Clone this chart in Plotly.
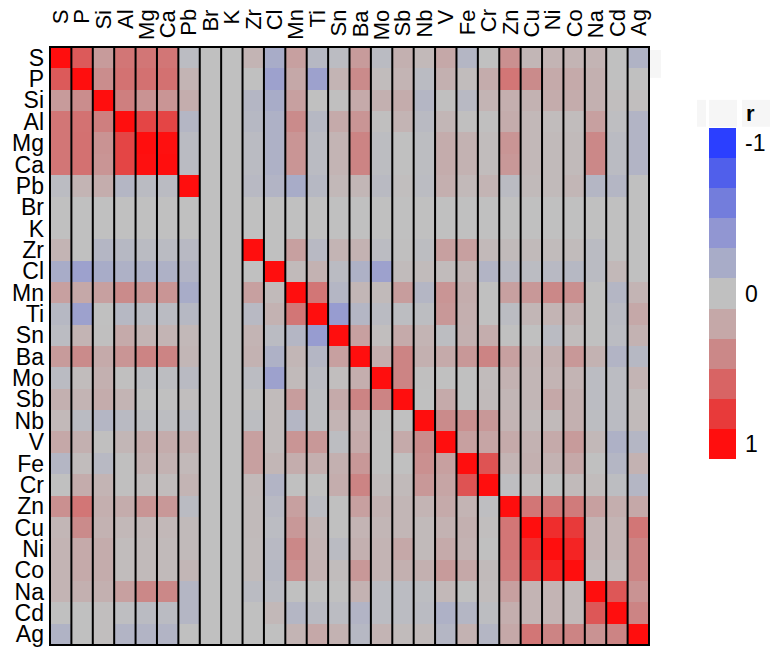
import plotly.graph_objects as go

# Elements in matrix order
labels = ["S", "P", "Si", "Al", "Mg", "Ca", "Pb", "Br", "K", "Zr", "Cl", "Mn", "Ti", "Sn",
          "Ba", "Mo", "Sb", "Nb", "V", "Fe", "Cr", "Zn", "Cu", "Ni", "Co", "Na", "Cd", "Ag"]

# Lower triangle of the Pearson correlation matrix (row i holds columns 0..i)
r_S = [1]
r_P = [0.65, 1]
r_Si = [0.28, 0.37, 1]
r_Al = [0.5, 0.52, 0.45, 1]
r_Mg = [0.5, 0.53, 0.33, 0.75, 1]
r_Ca = [0.5, 0.53, 0.32, 0.75, 0.99, 1]
r_Pb = [-0.04, 0.1, 0.16, -0.1, -0.05, -0.05, 1]
r_Br = [0, 0, 0, 0, 0, 0, 0, 0]
r_K = [0, 0, 0, 0, 0, 0, 0, 0, 0]
r_Zr = [0.1, 0, -0.1, -0.08, -0.05, -0.05, -0.07, 0, 0, 1]
r_Cl = [-0.2, -0.3, -0.2, -0.15, -0.15, -0.15, -0.12, 0, 0, 0, 1]
r_Mn = [0.25, 0.2, 0.25, 0.38, 0.32, 0.32, -0.2, 0, 0, 0.25, 0.05, 1]
r_Ti = [-0.08, -0.3, 0, -0.08, -0.05, -0.05, -0.08, 0, 0, -0.07, 0.12, 0.5, 1]
r_Sn = [-0.04, 0.1, 0.01, 0.18, 0.1, 0.1, 0.07, 0, 0, 0.1, -0.05, -0.1, -0.35, 1]
r_Ba = [0.28, 0.38, 0.18, 0.32, 0.42, 0.42, 0.08, 0, 0, 0.12, -0.15, 0.08, -0.1, 0.25, 1]
r_Mo = [-0.05, 0.03, 0.13, 0.01, -0.03, -0.03, -0.06, 0, 0, -0.04, -0.3, 0.05, -0.05, 0.02,
        0.15, 1]
r_Sb = [0.13, 0.1, 0.17, 0.1, 0, 0, 0.02, 0, 0, 0.01, 0.04, 0.27, -0.03, 0.18, 0.42, 0.42, 1]
r_Nb = [0.06, -0.05, -0.1, -0.06, -0.03, -0.03, -0.04, 0, 0, -0.03, 0.04, -0.1, -0.03, 0.1,
        0.13, 0.01, 0, 1]
r_V = [0.2, 0.13, 0.01, 0.08, 0.17, 0.17, 0.14, 0, 0, 0.25, 0.04, 0.32, 0.3, -0.03, 0.18, 0,
       0.18, 0.38, 1]
r_Fe = [-0.1, 0.03, -0.07, 0.01, 0.12, 0.12, 0.06, 0, 0, 0.25, 0.08, 0.16, 0.14, 0.13, 0.3,
        0, 0, 0.35, 0.25, 1]
r_Cr = [0, 0.17, 0.1, 0.01, 0.03, 0.03, 0.1, 0, 0, 0.06, -0.12, 0, 0, 0.16, 0.42, 0.04,
        0.05, 0.3, 0.22, 0.68, 1]
r_Zn = [0.35, 0.5, 0.14, 0.17, 0.32, 0.3, -0.05, 0, 0, 0.05, -0.07, 0.25, -0.04, 0, 0.25,
        0.12, 0.08, 0.1, 0.18, 0.1, -0.02, 1]
r_Cu = [0.08, 0.38, 0.12, 0.07, 0.07, 0.07, 0.05, 0, 0, 0.05, -0.04, 0.3, 0.08, 0, 0.1,
        0.08, 0.08, 0.05, 0.12, 0.13, 0.02, 0.5, 1]
r_Ni = [0.1, 0.18, 0.17, 0.03, 0.05, 0.05, 0.05, 0, 0, 0.04, -0.07, 0.4, 0.1, -0.05, 0.13,
        0.1, 0.2, 0.05, 0.18, 0.12, 0, 0.5, 0.86, 1]
r_Co = [0.1, 0.18, 0.17, 0.03, 0.05, 0.05, 0.08, 0, 0, 0.04, -0.08, 0.35, 0.12, 0.03, 0.3,
        0.1, 0.13, 0.13, 0.28, 0.2, 0.05, 0.47, 0.8, 0.9, 1]
r_Na = [0.1, 0.13, 0.13, 0.25, 0.4, 0.4, -0.1, 0, 0, -0.05, -0.05, 0, 0, 0, 0.12, -0.04,
        -0.04, -0.03, 0.07, 0, 0.03, 0.25, 0.1, 0.1, 0.06, 1]
r_Cd = [0, 0, 0.02, -0.02, -0.05, -0.05, -0.1, 0, 0, 0, 0.07, -0.1, -0.06, -0.04, -0.12,
        -0.04, -0.04, -0.05, -0.15, -0.1, -0.03, 0.15, 0.1, 0.1, 0.06, 0.66, 1]
r_Ag = [-0.13, 0, 0.02, -0.12, -0.12, -0.12, 0, 0, 0, 0, 0, 0.1, 0.2, 0.12, -0.08, 0.1,
        0.04, 0.05, -0.1, 0.12, -0.1, 0.2, 0.5, 0.42, 0.42, 0.33, 0.42, 1]

lower = [r_S, r_P, r_Si, r_Al, r_Mg, r_Ca, r_Pb, r_Br, r_K, r_Zr, r_Cl, r_Mn, r_Ti, r_Sn,
         r_Ba, r_Mo, r_Sb, r_Nb, r_V, r_Fe, r_Cr, r_Zn, r_Cu, r_Ni, r_Co, r_Na, r_Cd, r_Ag]

# Legend bins, from r = -1 to r = 1
bin_values = [-1, -0.8, -0.6, -0.4, -0.2, 0, 0.2, 0.4, 0.6, 0.8, 1]
bin_colors = ["rgb(43,63,255)", "rgb(80,95,235)", "rgb(115,125,220)", "rgb(145,150,210)",
              "rgb(168,172,200)", "rgb(192,192,192)", "rgb(197,168,168)", "rgb(203,136,136)",
              "rgb(216,100,100)", "rgb(232,58,58)", "rgb(255,14,14)"]

n = len(labels)
z = [[0.0] * n for _ in range(n)]
for i, row in enumerate(lower):
    for j, v in enumerate(row):
        z[i][j] = v
        z[j][i] = v

FONT = "Liberation Sans, Arial, sans-serif"

# continuous scale for the cells
cell_scale = [[(v + 1) / 2, c] for v, c in zip(bin_values, bin_colors)]

# stepped scale for the legend bar (red at the bottom, blue at the top)
nb = len(bin_colors)
legend_scale = []
for k, c in enumerate(reversed(bin_colors)):
    legend_scale.append([k / nb, c])
    legend_scale.append([(k + 1) / nb, c])

fig = go.Figure()
fig.add_trace(go.Heatmap(
    z=z, x=labels, y=labels, zmin=-1, zmax=1,
    colorscale=cell_scale, showscale=False,
))

half = 1 / nb
fig.add_trace(go.Scatter(
    x=[None], y=[None], mode="markers", showlegend=False, hoverinfo="skip",
    marker=dict(
        color=[0], cmin=-1, cmax=1, colorscale=legend_scale, showscale=True,
        colorbar=dict(
            x=(709 - 50) / 599, xanchor="left", xpad=0,
            y=(647 - 294.5) / 600, yanchor="middle", ypad=0,
            thickness=27, thicknessmode="pixels",
            len=331, lenmode="pixels",
            outlinewidth=0, ticks="outside", ticklen=5, tickcolor="rgba(0,0,0,0)",
            tickvals=[1 - half, 0, -1 + half],
            ticktext=["-1", "0", "1"],
            tickfont=dict(family=FONT, size=23, color="black"),
        ),
    ),
))

# column separators and the frame
shapes = []
for k in range(1, n):
    shapes.append(dict(type="line", xref="x", yref="paper", x0=k - 0.5, x1=k - 0.5,
                       y0=0, y1=1, line=dict(color="black", width=2)))
shapes.append(dict(type="rect", xref="paper", yref="paper", x0=0, x1=1, y0=0, y1=1,
                   line=dict(color="black", width=2)))


def px_x(p):
    return (p - 50) / 599


def px_y(p):
    return (647 - p) / 600


# faint panels near the legend
for x0, x1, y0, y1 in [(649, 661, 50, 78), (697, 706, 100, 127),
                       (709, 737, 100, 127), (742, 770, 100, 127)]:
    shapes.append(dict(type="rect", xref="paper", yref="paper",
                       x0=px_x(x0), x1=px_x(x1), y0=px_y(y1), y1=px_y(y0),
                       fillcolor="rgb(246,246,246)", line=dict(width=0), layer="below"))

annotations = []
for lab in labels:
    annotations.append(dict(
        x=lab, xref="x", y=px_y(7), yref="paper", text=lab, showarrow=False,
        textangle=-90, xanchor="center", yanchor="top",
        font=dict(family=FONT, size=22, color="black"),
    ))
annotations.append(dict(
    x=px_x(744), xref="paper", y=px_y(114), yref="paper", text="<b>r</b>",
    showarrow=False, xanchor="left", yanchor="middle",
    font=dict(family=FONT, size=22, color="black"),
))

fig.update_layout(
    width=770, height=650,
    margin=dict(l=50, r=121, t=47, b=3),
    paper_bgcolor="white", plot_bgcolor="rgb(192,192,192)",
    font=dict(family=FONT, color="black"),
    shapes=shapes, annotations=annotations,
    xaxis=dict(showticklabels=False, showgrid=False, zeroline=False, ticks="",
               range=[-0.5, n - 0.5]),
    yaxis=dict(autorange="reversed", showgrid=False, zeroline=False, ticks="",
               tickmode="array", tickvals=labels, ticktext=labels,
               tickfont=dict(family=FONT, size=23, color="black"),
               ticklabelstandoff=5),
)

fig.write_html("out.html")
